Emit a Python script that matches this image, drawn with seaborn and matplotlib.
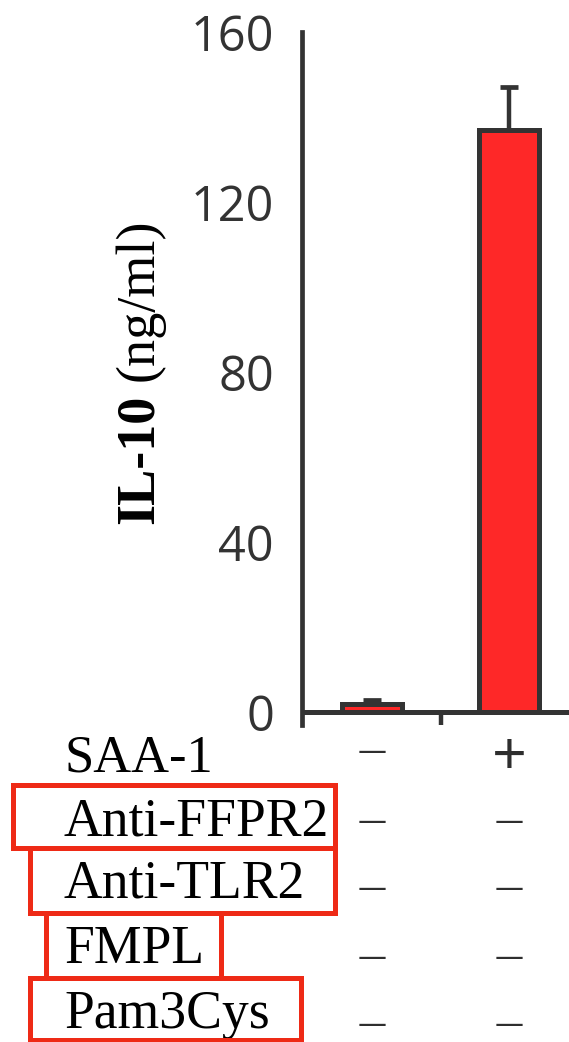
import matplotlib
matplotlib.use("Agg")
import matplotlib.pyplot as plt
import seaborn as sns
import pandas as pd
from matplotlib.patches import Rectangle
from matplotlib.transforms import blended_transform_factory

# ---- data -------------------------------------------------------------
conditions = ["vehicle", "SAA-1"]
il10_mean = [1.8, 137.0]          # IL-10, ng/ml
il10_err = [1.0, 10.0]            # upper error (SEM)
y_ticks = [0, 40, 80, 120, 160]

row_labels = ["SAA-1", "Anti-FFPR2", "Anti-TLR2", "FMPL", "Pam3Cys"]
row_signs = [["\u2014", "+"],
             ["\u2014", "\u2014"],
             ["\u2014", "\u2014"],
             ["\u2014", "\u2014"],
             ["\u2014", "\u2014"]]

# ---- style ------------------------------------------------------------
W, H = 569, 1042
DPI = 100
INK = "#333333"
SIGN = "#2e2e2e"
BAR_RED = "#fe2828"
BOX_RED = "#ee2a16"

sns.set_style("white")
plt.rcParams["font.family"] = ["Open Sans", "DejaVu Sans"]

fig = plt.figure(figsize=(W / DPI, H / DPI), dpi=DPI)
ax = fig.add_axes([302 / W, 1 - 725 / H, 1 - 302 / W, (725 - 32) / H])

df = pd.DataFrame({"condition": conditions, "il10": il10_mean})
sns.barplot(data=df, x="condition", y="il10", color=BAR_RED, saturation=1,
            width=0.44, errorbar=None, edgecolor=INK, linewidth=3.6,
            zorder=2, ax=ax)
for bar in ax.patches:
    bar.set_facecolor(BAR_RED)

# upper-only error bars
ax.errorbar(range(len(conditions)), il10_mean,
            yerr=[[0] * len(il10_err), il10_err],
            fmt="none", ecolor=INK, elinewidth=3.2, capsize=6.5,
            capthick=3.4, zorder=3)

# axes
ax.set_xlim(-0.51, 1.435)
ax.set_ylim(-3.06, 160)
ax.set_yticks(y_ticks)
ax.set_yticklabels([str(v) for v in y_ticks])
ax.set_xticks([0.5])
ax.set_xticklabels([""])
ax.set_xlabel("")
ax.set_ylabel("")
ax.axhline(0, color=INK, lw=3.6, zorder=4)
for side in ("top", "right", "bottom"):
    ax.spines[side].set_visible(False)
ax.spines["left"].set_color(INK)
ax.spines["left"].set_linewidth(3.4)
ax.tick_params(axis="y", direction="out", length=8.6, width=3.2,
               color=INK, labelcolor=INK, labelsize=35, pad=11.5)
ax.tick_params(axis="x", direction="in", length=9.4, width=3.2,
               color=INK, bottom=True)

# y label: bold analyte + regular unit, rotated
serif = ["Liberation Serif", "DejaVu Serif"]
def fx(px):
    return px / W
def fy(py):
    return 1 - py / H

t1 = fig.text(fx(153), fy(524), "IL-10", rotation=90, rotation_mode="anchor",
              ha="left", va="baseline", family=serif, weight="bold",
              fontsize=39, color="black")
fig.canvas.draw()
bb = t1.get_window_extent()
space = 0.25 * 39 * DPI / 72
fig.text(fx(153), (bb.y1 + space) / H, "(ng/ml)", rotation=90,
         rotation_mode="anchor", ha="left", va="baseline", family=serif,
         fontsize=39, color="black")

# treatment table below the axis
baselines = [772, 835, 898, 963, 1028]
label_sizes = [37.8, 38.6, 38.6, 38.6, 38.6]
sign_centers = [752, 822, 889, 958, 1025]
for label, base, size in zip(row_labels, baselines, label_sizes):
    fig.text(fx(64), fy(base), label, ha="left", va="baseline",
             family=serif, fontsize=size, color="black")

col_tr = blended_transform_factory(ax.transData, fig.transFigure)
for signs, yc in zip(row_signs, sign_centers):
    for i, s in enumerate(signs):
        if s == "+":
            fig.text(i, fy(yc), s, transform=col_tr, ha="center",
                     va="center_baseline", fontsize=44, color=SIGN)
        else:
            fig.text(i, fy(yc), s, transform=col_tr, ha="center",
                     va="center", fontsize=21, color=SIGN,
                     family=["DejaVu Sans"])

# red highlight boxes around the inhibitor/agonist rows (pixel outlines)
boxes = [(12.5, 784.5, 334.5, 847.5),
         (29.5, 847.5, 334.5, 912.5),
         (45.5, 912.5, 220.5, 977.5),
         (29.5, 977.5, 300.5, 1039.5)]
for x0, y0, x1, y1 in boxes:
    fig.patches.append(Rectangle((fx(x0), fy(y1)), (x1 - x0) / W,
                                 (y1 - y0) / H, transform=fig.transFigure,
                                 fill=False, edgecolor=BOX_RED, lw=3.6,
                                 zorder=5))

fig.savefig("out.png", dpi=DPI)
